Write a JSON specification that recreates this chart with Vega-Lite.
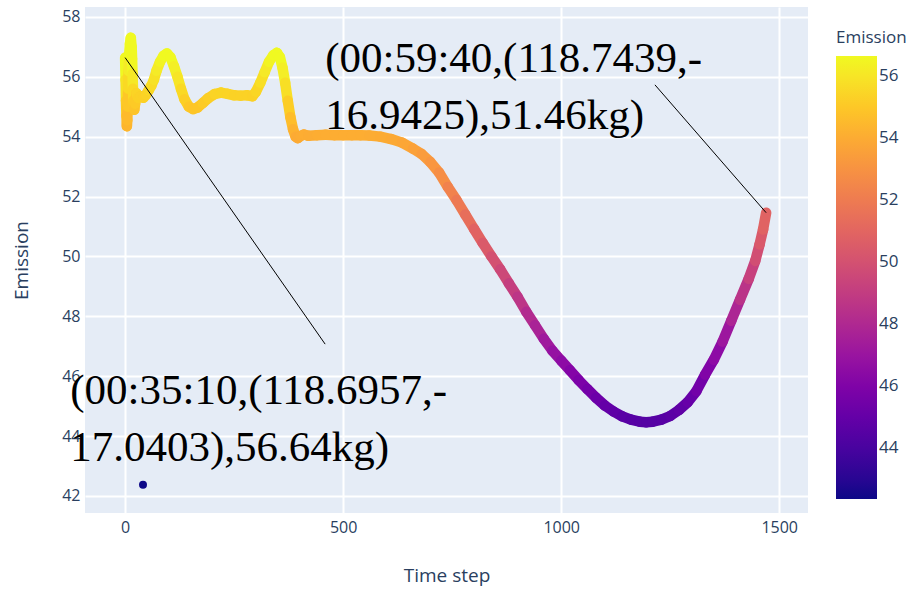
{
  "$schema": "https://vega.github.io/schema/vega-lite/v6.json",
  "width": 723,
  "height": 506,
  "padding": {"left": 12, "top": 7, "right": 0, "bottom": 4},
  "background": "white",
  "config": {
    "view": {"fill": "#E5ECF6", "stroke": null},
    "font": "Open Sans",
    "axis": {
      "domain": false, "ticks": false, "gridColor": "white", "gridWidth": 2,
      "labelColor": "#2a3f5f", "titleColor": "#2a3f5f", "labelFontSize": 16, "titleFontSize": 19,
      "titleFontWeight": "normal", "labelFont": "Open Sans", "titleFont": "Open Sans"
    },
    "axisX": {"labelPadding": 6, "titlePadding": 31},
    "axisY": {"labelPadding": 5, "titlePadding": 30},
    "legend": {
      "gradientLength": 443, "gradientThickness": 41, "gradientStrokeWidth": 0,
      "titleFontSize": 17, "labelFontSize": 17, "titleFont": "Open Sans", "labelFont": "Open Sans",
      "titleFontWeight": "normal", "titleColor": "#2a3f5f", "labelColor": "#2a3f5f",
      "titlePadding": 9, "labelOffset": 13
    }
  },
  "datasets": {
    "curve": [
      {"t": 0, "emission": 56.64}, {"t": 1, "emission": 55.9}, {"t": 2, "emission": 55.2}, {"t": 3, "emission": 54.7},
      {"t": 4, "emission": 54.35}, {"t": 5, "emission": 54.55}, {"t": 6, "emission": 55.0}, {"t": 7, "emission": 55.6},
      {"t": 8, "emission": 56.2}, {"t": 9, "emission": 56.7}, {"t": 11, "emission": 57.1}, {"t": 13, "emission": 57.3},
      {"t": 15, "emission": 57.0}, {"t": 16, "emission": 56.6}, {"t": 17, "emission": 56.1}, {"t": 18, "emission": 55.6},
      {"t": 19, "emission": 55.2}, {"t": 21, "emission": 54.9}, {"t": 23, "emission": 55.1}, {"t": 26, "emission": 55.45},
      {"t": 30, "emission": 55.3}, {"t": 36, "emission": 55.35}, {"t": 42, "emission": 55.3}, {"t": 48, "emission": 55.4},
      {"t": 54, "emission": 55.55}, {"t": 60, "emission": 55.7}, {"t": 66, "emission": 55.9}, {"t": 72, "emission": 56.2},
      {"t": 80, "emission": 56.5}, {"t": 88, "emission": 56.7}, {"t": 96, "emission": 56.78}, {"t": 104, "emission": 56.65},
      {"t": 112, "emission": 56.35}, {"t": 120, "emission": 56.0}, {"t": 128, "emission": 55.6}, {"t": 136, "emission": 55.25},
      {"t": 146, "emission": 55.0}, {"t": 156, "emission": 54.92}, {"t": 166, "emission": 54.97}, {"t": 178, "emission": 55.12},
      {"t": 190, "emission": 55.28}, {"t": 205, "emission": 55.42}, {"t": 220, "emission": 55.47}, {"t": 235, "emission": 55.43},
      {"t": 250, "emission": 55.38}, {"t": 265, "emission": 55.37}, {"t": 280, "emission": 55.38}, {"t": 292, "emission": 55.35},
      {"t": 300, "emission": 55.5}, {"t": 310, "emission": 55.8}, {"t": 320, "emission": 56.15}, {"t": 330, "emission": 56.5},
      {"t": 340, "emission": 56.72}, {"t": 348, "emission": 56.8}, {"t": 355, "emission": 56.65}, {"t": 361, "emission": 56.3},
      {"t": 367, "emission": 55.8}, {"t": 373, "emission": 55.2}, {"t": 379, "emission": 54.65}, {"t": 385, "emission": 54.25},
      {"t": 391, "emission": 54.0}, {"t": 396, "emission": 53.95}, {"t": 402, "emission": 54.02}, {"t": 410, "emission": 54.07},
      {"t": 420, "emission": 54.03}, {"t": 440, "emission": 54.05}, {"t": 460, "emission": 54.06}, {"t": 480, "emission": 54.05},
      {"t": 500, "emission": 54.05}, {"t": 520, "emission": 54.05}, {"t": 540, "emission": 54.05}, {"t": 560, "emission": 54.04},
      {"t": 585, "emission": 54.0}, {"t": 610, "emission": 53.92}, {"t": 635, "emission": 53.8}, {"t": 660, "emission": 53.6},
      {"t": 680, "emission": 53.42}, {"t": 700, "emission": 53.15}, {"t": 720, "emission": 52.8}, {"t": 740, "emission": 52.32},
      {"t": 760, "emission": 51.88}, {"t": 780, "emission": 51.4}, {"t": 800, "emission": 50.92}, {"t": 820, "emission": 50.45},
      {"t": 840, "emission": 50.0}, {"t": 860, "emission": 49.57}, {"t": 880, "emission": 49.1}, {"t": 900, "emission": 48.65},
      {"t": 920, "emission": 48.15}, {"t": 940, "emission": 47.7}, {"t": 960, "emission": 47.25}, {"t": 980, "emission": 46.85},
      {"t": 1000, "emission": 46.52}, {"t": 1020, "emission": 46.2}, {"t": 1040, "emission": 45.87}, {"t": 1060, "emission": 45.57},
      {"t": 1080, "emission": 45.28}, {"t": 1100, "emission": 45.02}, {"t": 1120, "emission": 44.82}, {"t": 1140, "emission": 44.66},
      {"t": 1160, "emission": 44.55}, {"t": 1180, "emission": 44.48}, {"t": 1195, "emission": 44.46}, {"t": 1210, "emission": 44.48},
      {"t": 1230, "emission": 44.55}, {"t": 1250, "emission": 44.67}, {"t": 1270, "emission": 44.87}, {"t": 1290, "emission": 45.13},
      {"t": 1310, "emission": 45.5}, {"t": 1330, "emission": 46.05}, {"t": 1350, "emission": 46.55}, {"t": 1370, "emission": 47.15},
      {"t": 1390, "emission": 47.85}, {"t": 1410, "emission": 48.55}, {"t": 1430, "emission": 49.25}, {"t": 1445, "emission": 49.85},
      {"t": 1455, "emission": 50.4}, {"t": 1463, "emission": 50.9}, {"t": 1470, "emission": 51.46}
    ],
    "outlier": [{"t": 41, "emission": 42.37}],
    "guides": [
      {"t": 0, "emission": 56.64, "t2": 458.7, "emission2": 47.07},
      {"t": 1470, "emission": 51.46, "t2": 1215, "emission2": 55.73}
    ],
    "labels": [
      {"t": -126, "emission": 45.07, "label": "(00:35:10,(118.6957,-\n17.0403),56.64kg)"},
      {"t": 458.7, "emission": 56.17, "label": "(00:59:40,(118.7439,-\n16.9425),51.46kg)"}
    ]
  },
  "layer": [
    {
      "data": {"name": "curve"},
      "transform": [
        {"window": [{"op": "lead", "field": "t", "as": "t_next"}, {"op": "lead", "field": "emission", "as": "e_next"}], "sort": [{"field": "t"}]},
        {"filter": "datum.t_next != null"}
      ],
      "mark": {"type": "rule", "strokeWidth": 10.5, "strokeCap": "round"},
      "encoding": {
        "x": {"field": "t", "type": "quantitative", "title": "Time step", "scale": {"domain": [-92, 1566], "nice": false, "zero": false}, "axis": {"values": [0, 500, 1000, 1500], "format": "d"}},
        "y": {"field": "emission", "type": "quantitative", "title": "Emission", "scale": {"domain": [41.43, 58.33], "nice": false, "zero": false}, "axis": {"values": [42, 44, 46, 48, 50, 52, 54, 56, 58]}},
        "x2": {"field": "t_next"},
        "y2": {"field": "e_next"},
        "color": {
          "field": "emission", "type": "quantitative", "title": "Emission",
          "scale": {"scheme": "plasma", "domain": [42.37, 56.66], "clamp": true},
          "legend": {"type": "gradient", "orient": "none", "legendX": 751, "legendY": 23, "direction": "vertical", "values": [44, 46, 48, 50, 52, 54, 56]}
        }
      }
    },
    {
      "data": {"name": "outlier"},
      "mark": {"type": "rule", "strokeWidth": 8, "strokeCap": "round"},
      "encoding": {
        "x": {"field": "t", "type": "quantitative", "title": "Time step"},
        "y": {"field": "emission", "type": "quantitative", "title": "Emission"},
        "x2": {"field": "t"},
        "y2": {"field": "emission"},
        "color": {"field": "emission", "type": "quantitative", "title": "Emission"}
      }
    },
    {
      "data": {"name": "guides"},
      "mark": {"type": "rule", "color": "black", "strokeWidth": 1},
      "encoding": {
        "x": {"field": "t", "type": "quantitative", "title": "Time step"},
        "y": {"field": "emission", "type": "quantitative", "title": "Emission"},
        "x2": {"field": "t2"},
        "y2": {"field": "emission2"}
      }
    },
    {
      "data": {"name": "labels"},
      "mark": {"type": "text", "font": "Liberation Serif", "fontSize": 43, "align": "left", "baseline": "alphabetic", "lineBreak": "\n", "lineHeight": 57, "color": "black"},
      "encoding": {
        "x": {"field": "t", "type": "quantitative", "title": "Time step"},
        "y": {"field": "emission", "type": "quantitative", "title": "Emission"},
        "text": {"field": "label"}
      }
    }
  ]
}
